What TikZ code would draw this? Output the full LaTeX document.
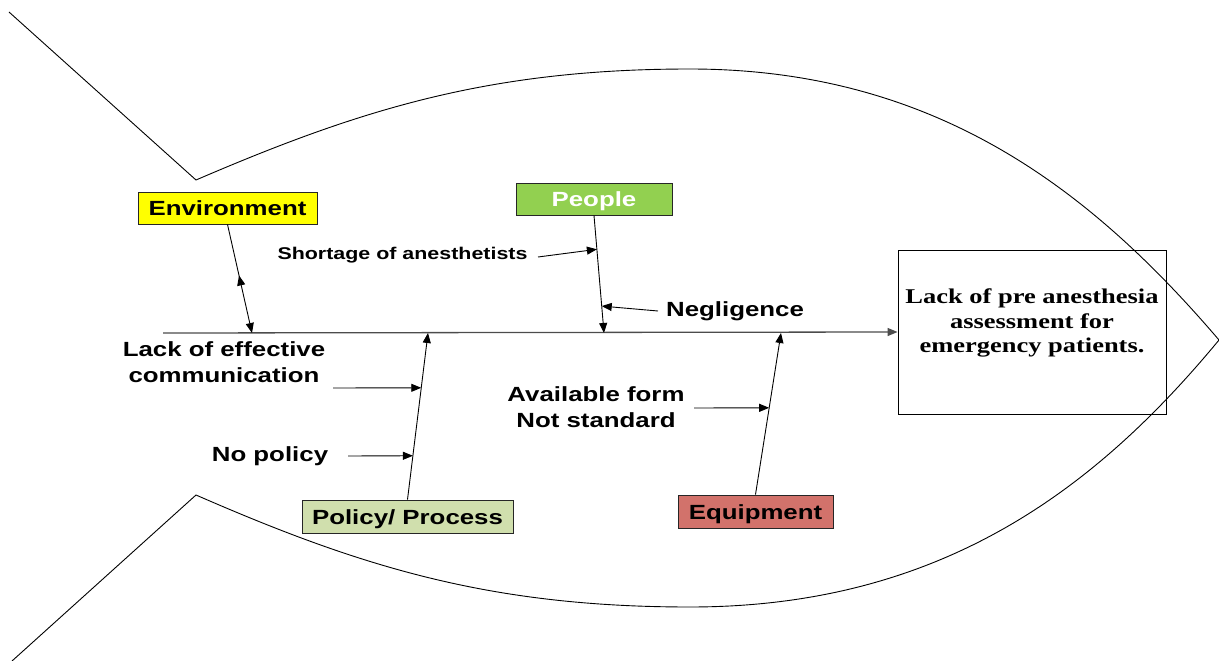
\documentclass[tikz,border=0pt]{standalone}
\usepackage{fontspec}
\newfontfamily\arialx[FakeStretch=1.26]{Liberation Sans}
\newfontfamily\timesx[FakeStretch=1.26]{Liberation Serif}
\usetikzlibrary{arrows.meta,calc}
\definecolor{envyellow}{HTML}{FFFF00}
\definecolor{peoplegreen}{HTML}{92D050}
\definecolor{policygreen}{HTML}{D0DFAD}
\definecolor{equipred}{HTML}{D2726B}
\tikzset{
  catbox/.style={draw=black!85, line width=0.9pt, inner sep=0pt,
    text height=15pt, text depth=0pt,
    font=\arialx\bfseries\fontsize{20.5}{24}\selectfont},
  lbl/.style={inner sep=0pt, align=center,
    font=\arialx\bfseries\fontsize{20.5}{26}\selectfont},
  smalllbl/.style={inner sep=0pt, align=center,
    font=\arialx\bfseries\fontsize{17}{20}\selectfont},
  arr/.style={line width=0.9pt, -{Triangle[length=10pt,width=8pt]}},
  spine/.style={line width=1.3pt, draw=black!70, -{Triangle[length=10pt,width=8pt]}},
  fish/.style={line width=0.9pt},
}
\begin{document}
\begin{tikzpicture}[x=1pt,y=-1pt]
\useasboundingbox (0,0) rectangle (1219,661);
% fish outline
\draw[fish] (9,12) -- (196,180)
  .. controls (361,109) and (490,69) .. (690,69)
  .. controls (940,69) and (1095,195) .. (1219,340)
  .. controls (1095,490) and (940,607) .. (690,607)
  .. controls (490,607) and (361,567) .. (196,495)
  -- (12,661);
% effect box
\node[draw, line width=0.9pt, minimum width=268pt, minimum height=164pt] (effect) at (1032,332) {};
\node[font=\timesx\bfseries\fontsize{21}{24.5}\selectfont, align=center, inner sep=0pt]
  (efftext) at ($(effect.center)+(0,-9)$) {Lack of pre anesthesia\\assessment for\\emergency patients.};
% spine
\coordinate (tail) at (163,333);
\draw[spine] (tail) -- (effect.west);
% categories
\node[catbox, fill=envyellow, minimum width=179pt, minimum height=32pt] (env) at (227.5,208) {Environment};
\node[catbox, fill=peoplegreen, text=white, minimum width=156pt, minimum height=32pt] (people) at (594,199) {People};
\node[catbox, fill=policygreen, minimum width=211pt, minimum height=33pt] (policy) at (407.5,516.5) {Policy/ Process};
\node[catbox, fill=equipred, minimum width=155pt, minimum height=33pt] (equip) at (755.5,511.5) {Equipment};
% spine contact points
\coordinate (e1) at (252,333);
\coordinate (p1) at (604,333);
\coordinate (pp1) at (428,333);
\coordinate (q1) at (781,333);
% branches
\draw[arr] (env.south) -- (e1);
\draw[arr] ($(env.south)!0.56!(e1)$) -- ($(env.south)!0.47!(e1)$);
\draw[arr] (people.south) -- (p1);
\draw[arr] (policy.north) -- (pp1);
\draw[arr] (equip.north) -- (q1);
% cause labels
\node[smalllbl] (short) at (402.5,255) {Shortage of anesthetists};
\node[lbl] (neg) at (735,311.5) {Negligence};
\node[lbl] (comm) at (224,362) {Lack of effective\\communication};
\node[lbl] (nopol) at (270,456) {No policy};
\node[lbl] (avail) at (596,407) {Available form\\Not standard};
% cause arrows
\coordinate (s0) at (538,257);
\coordinate (n0) at (658,311);
\coordinate (c0) at (333,388);
\coordinate (np0) at (348,456);
\coordinate (a0) at (694,408);
\draw[arr] (s0) -- ($(people.south)!0.288!(p1)$);
\draw[arr] (n0) -- ($(people.south)!0.771!(p1)$);
\draw[arr] (c0) -- ($(policy.north)!0.671!(pp1)$);
\draw[arr] (np0) -- ($(policy.north)!0.263!(pp1)$);
\draw[arr] (a0) -- ($(equip.north)!0.537!(q1)$);
\end{tikzpicture}
\end{document}
